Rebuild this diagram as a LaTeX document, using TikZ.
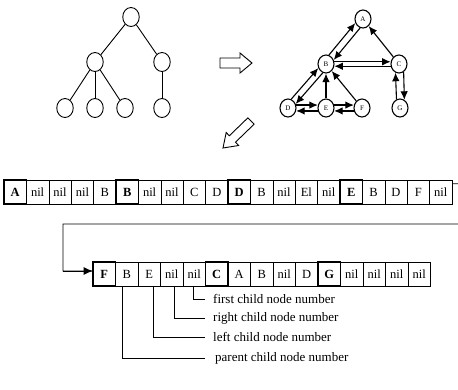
\documentclass[tikz,border=0pt]{standalone}
\usepackage{fontspec}
\setmainfont{Liberation Serif}
\usetikzlibrary{arrows.meta,calc,shapes.geometric}
\begin{document}
\begin{tikzpicture}[x=1pt,y=-1pt,
  tnode/.style={draw,line width=0.9pt,ellipse,minimum width=16.5pt,minimum height=19pt,inner sep=0pt},
  tline/.style={line width=0.9pt},
  gnode/.style={draw,line width=1.1pt,ellipse,minimum width=16pt,minimum height=18pt,inner sep=0pt,font=\fontsize{7}{7}\selectfont},
  gedge/.style={line width=1.1pt,-{Latex[length=8.5pt,width=7.5pt]}},
  hollow/.style={draw,line width=0.9pt,line join=miter},
  cell/.style={draw,line width=0.6pt,minimum width=22.4pt,minimum height=24pt,inner sep=0pt,font=\fontsize{12.5}{12.5}\selectfont},
  cellb/.style={cell,minimum width=22.5pt},
  head/.style={draw,line width=1.3pt},
  conn/.style={line width=0.8pt},
  lead/.style={line width=0.7pt},
  lab/.style={anchor=west,inner sep=0pt,font=\fontsize{13}{13}\selectfont}
]
\useasboundingbox (0,0) rectangle (458,389);
\clip (0,0) rectangle (458,389);

% ---------- tree ----------
\node[tnode] (t0) at (131,17) {};
\node[tnode] (t1) at (95,62) {};
\node[tnode] (t2) at (162,62) {};
\node[tnode] (t3) at (65,108) {};
\node[tnode] (t4) at (95,108) {};
\node[tnode] (t5) at (125,108) {};
\node[tnode] (t6) at (162,108) {};
\draw[tline] (t0) -- (t1);
\draw[tline] (t0) -- (t2);
\draw[tline] (t1) -- (t3);
\draw[tline] (t1) -- (t4);
\draw[tline] (t1) -- (t5);
\draw[tline] (t2) -- (t6);

% ---------- hollow arrows ----------
\draw[hollow] (220,58) -- (240,58) -- (240,53) -- (252,63) -- (240,73) -- (240,68) -- (220,68) -- cycle;
\draw[hollow] (254.1,124.2) -- (235.5,142.2) -- (238.6,145.5) -- (223,148) -- (226.2,132.5) -- (229.3,135.8) -- (247.9,117.8) -- cycle;

% ---------- graph ----------
\node[gnode] (A) at (363,19) {A};
\node[gnode] (B) at (326,64) {B};
\node[gnode] (C) at (399,64) {C};
\node[gnode] (D) at (288,108) {D};
\node[gnode] (E) at (326,108) {E};
\node[gnode] (F) at (362,108) {F};
\node[gnode] (G) at (400,108) {G};
\draw[gedge] (B.72) -- (A.208);
\draw[gedge] (A.252) -- (B.28);
\draw[gedge] (C) -- (A);
\draw[gedge] (B.15) -- (C.165);
\draw[gedge] (C.195) -- (B.345);
\draw[gedge] (G.112) -- (C.248);
\draw[gedge] (C.300) -- (G.62);
\draw[gedge] (D.70) -- (B.208);
\draw[gedge] (B.250) -- (D.28);
\draw[gedge] (E) -- (B);
\draw[gedge] (F) -- (B);
\draw[gedge] (D.20) -- (E.160);
\draw[gedge] (E.200) -- (D.340);
\draw[gedge] (E.20) -- (F.160);
\draw[gedge] (F.200) -- (E.340);

% ---------- row 1 ----------
\foreach \t [count=\i] in {A,nil,nil,nil,B,B,nil,nil,C,D,D,B,nil,El,nil,E,B,D,F,nil}
  \node[cell] (r\i) at ({4+(\i-0.5)*22.4},192) {\t};
\foreach \i/\t in {1/A,6/B,11/D,16/E}
  \node[cell,head,fill=white,font=\fontsize{12.5}{12.5}\selectfont\bfseries] at (r\i) {\t};

% ---------- row 2 ----------
\foreach \t [count=\i] in {F,B,E,nil,nil,C,A,B,nil,D,G,nil,nil,nil,nil}
  \node[cellb] (s\i) at ({93+(\i-0.5)*22.5},274) {\t};
\foreach \i/\t in {1/F,6/C,11/G}
  \node[cellb,head,fill=white,font=\fontsize{12.5}{12.5}\selectfont\bfseries] at (s\i) {\t};

% ---------- connector ----------
\coordinate (cR1) at (470,184);
\coordinate (cR2) at (470,224);
\coordinate (cL) at (63,224);
\draw[conn] ($(r20.north east)+(0,4)$) -- (cR1) -- (cR2) -- (cL)
  |- ($(s1.west)+(0,-3)$);
\draw[conn,-{Latex[length=9pt,width=8pt]}] ($(cL)+(0,47)$) -- ($(s1.west)+(0,-3)$);

% ---------- labels ----------
\node[lab] (l1) at (213,299) {first child node number};
\node[lab] (l2) at (213,318) {right child node number};
\node[lab] (l3) at (213,337) {left child node number};
\node[lab] (l4) at (215,358) {parent child node number};
\draw[lead] ([xshift=-1pt]s5.south) |- ([xshift=-8pt]l1.west);
\draw[lead] ([xshift=3pt]s4.south) |- ([xshift=-8pt]l2.west);
\draw[lead] ([xshift=4pt]s3.south) |- ([xshift=-8pt]l3.west);
\draw[lead] ([xshift=-4pt]s2.south) |- ([xshift=-10pt]l4.west);
\end{tikzpicture}
\end{document}
